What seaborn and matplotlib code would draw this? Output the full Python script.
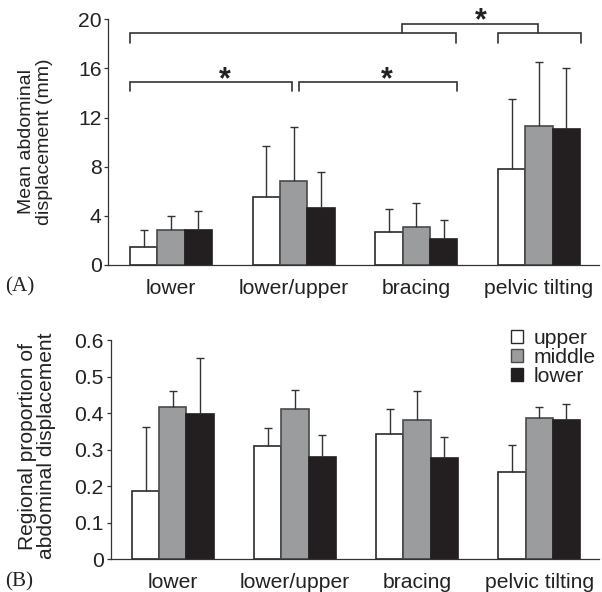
import numpy as np
import pandas as pd
import matplotlib
matplotlib.use("Agg")
import matplotlib.pyplot as plt
from matplotlib.patches import Patch
import seaborn as sns

sns.set_theme(style="white")
plt.rcParams['font.family'] = ['Liberation Sans', 'DejaVu Sans']

categories = ["lower", "lower/upper", "bracing", "pelvic tilting"]
regions = ["upper", "middle", "lower"]

# Panel A: mean abdominal displacement (mm)
disp_upper = [1.5, 5.5, 2.7, 7.85]
disp_middle = [2.87, 6.8, 3.12, 11.3]
disp_lower = [2.85, 4.6, 2.12, 11.05]
disp_upper_err = [2.85, 9.7, 4.58, 13.5]
disp_middle_err = [4.0, 11.2, 5.07, 16.5]
disp_lower_err = [4.42, 7.57, 3.66, 16.05]

# Panel B: regional proportion of abdominal displacement
prop_upper = [0.188, 0.31, 0.344, 0.238]
prop_middle = [0.4175, 0.412, 0.381, 0.386]
prop_lower = [0.3975, 0.28, 0.276, 0.381]
prop_upper_err = [0.361, 0.358, 0.412, 0.314]
prop_middle_err = [0.46, 0.463, 0.461, 0.416]
prop_lower_err = [0.55, 0.339, 0.335, 0.425]

yticks_a = [0, 4, 8, 12, 16, 20]
yticklabels_a = ["0", "4", "8", "12", "16", "20"]
yticks_b = [0, 0.1, 0.2, 0.3, 0.4, 0.5, 0.6]
yticklabels_b = ["0", "0.1", "0.2", "0.3", "0.4", "0.5", "0.6"]

fills = ["#ffffff", "#9b9c9e", "#231f20"]
edges = ["#2a2a2a", "#4a4a4a", "#231f20"]
dark = "#333333"
FS = 15.2

fig = plt.figure(figsize=(6.02, 5.92), dpi=100)
axA = fig.add_axes([0.1802, 0.5524, 0.8148, 0.4150])
axB = fig.add_axes([0.1836, 0.0552, 0.8115, 0.3704])


def make_df(u, m, l):
    rows = []
    for vals, reg in zip([u, m, l], regions):
        for c, v in zip(categories, vals):
            rows.append({"category": c, "region": reg, "value": v})
    return pd.DataFrame(rows)


def draw_panel(ax, u, m, l, ue, me, le, ylim, yt, ytl):
    df = make_df(u, m, l)
    sns.barplot(data=df, x="category", y="value", hue="region",
                order=categories, hue_order=regions,
                palette=fills, width=0.667, errorbar=None,
                saturation=1, ax=ax, legend=False)
    tops_all = [ue, me, le]
    bar_conts = list(ax.containers)
    for ci, cont in enumerate(bar_conts):
        xs, hs = [], []
        for bar in cont.patches:
            bar.set_edgecolor(edges[ci])
            bar.set_linewidth(1.2)
            xs.append(bar.get_x() + bar.get_width() / 2)
            hs.append(bar.get_height())
        xs = np.array(xs)
        hs = np.array(hs)
        tops = np.array(tops_all[ci])
        err = ax.errorbar(xs, hs, yerr=[np.zeros_like(hs), tops - hs],
                          fmt="none", ecolor=dark, elinewidth=1.0,
                          capsize=3.2, capthick=1.0, zorder=1)
        caplines = err[1]
        if len(caplines) >= 1:
            caplines[0].set_visible(False)
    ax.set_xlim(-0.51, 3.49)
    ax.set_ylim(*ylim)
    ax.set_yticks(yt)
    ax.set_yticklabels(ytl)
    ax.set_xlabel("")
    ax.set_ylabel("")
    for s in ["top", "right"]:
        ax.spines[s].set_visible(False)
    for s in ["left", "bottom"]:
        ax.spines[s].set_color(dark)
        ax.spines[s].set_linewidth(0.9)
    ax.tick_params(axis="y", left=True, length=3, width=0.9, color=dark,
                   labelsize=FS, pad=2, labelcolor="#222222")
    ax.tick_params(axis="x", bottom=False, labelsize=FS, pad=4,
                   labelcolor="#222222")


draw_panel(axA, disp_upper, disp_middle, disp_lower,
           disp_upper_err, disp_middle_err, disp_lower_err,
           (0, 20), yticks_a, yticklabels_a)
draw_panel(axB, prop_upper, prop_middle, prop_lower,
           prop_upper_err, prop_middle_err, prop_lower_err,
           (0, 0.6), yticks_b, yticklabels_b)


def bracket(ax, x0, x1, y, drop, lw=1.2):
    ax.plot([x0, x0, x1, x1], [y - drop, y, y, y - drop], color=dark,
            lw=lw, clip_on=False, solid_joinstyle="miter")


# significance brackets in panel A
bracket(axA, -0.334, 2.327, 18.86, 0.76)
bracket(axA, 2.665, 3.344, 18.86, 0.76)
bracket(axA, 1.88, 2.99, 19.62, 0.76)
bracket(axA, -0.334, 0.99, 14.92, 0.73)
bracket(axA, 1.04, 2.33, 14.92, 0.73)
star_kw = dict(ha="center", va="center", fontsize=22, fontweight="bold",
               color="#222222", clip_on=False)
axA.text(2.53, 19.85, "*", **star_kw)
axA.text(0.44, 15.05, "*", **star_kw)
axA.text(1.76, 15.05, "*", **star_kw)

# y labels
fig.text(35.5 / 602, 1 - 141.7 / 592, "Mean abdominal\ndisplacement (mm)",
         rotation=90, ha="center", va="center", fontsize=14.0,
         linespacing=1.1, color="#222222")
fig.text(37 / 602, 1 - 446 / 592,
         "Regional proportion of\nabdominal displacement",
         rotation=90, ha="center", va="center", fontsize=15.1,
         linespacing=1.05, color="#222222")

# panel letters
fig.text(5 / 602, 1 - 287 / 592, "(A)", ha="left", va="center",
         fontsize=FS, family=["Liberation Serif", "DejaVu Serif"],
         color="#222222")
fig.text(5 / 602, 1 - 582 / 592, "(B)", ha="left", va="center",
         fontsize=FS, family=["Liberation Serif", "DejaVu Serif"],
         color="#222222")

# legend
handles = [Patch(facecolor=f, edgecolor=e, linewidth=1.0)
           for f, e in zip(fills, edges)]
axB.legend(handles, regions, loc="upper left",
           bbox_to_anchor=(511 / 602, 1 - 329 / 592),
           bbox_transform=fig.transFigure, frameon=False,
           fontsize=FS, handlelength=0.55, handleheight=0.6,
           handletextpad=0.5, labelspacing=0.0, borderpad=0,
           borderaxespad=0, labelcolor="#222222")

fig.savefig("out.png", dpi=100)
